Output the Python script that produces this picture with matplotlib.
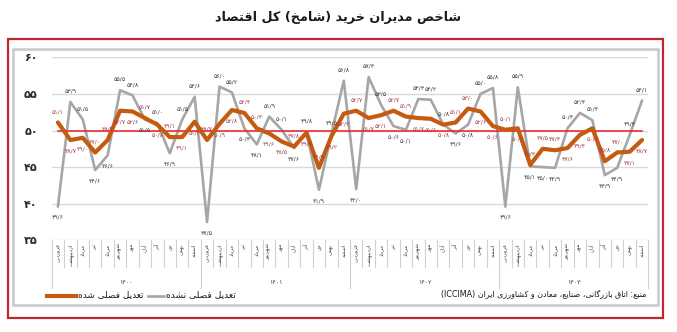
import matplotlib
matplotlib.use("Agg")
import matplotlib.pyplot as plt
from matplotlib.patches import Rectangle
from matplotlib.lines import Line2D
import matplotlib.transforms as mtransforms

# ---------------- data ----------------
title_text = "شاخص مدیران خرید (شامخ) کل اقتصاد"
months = ["فروردین", "اردیبهشت", "خرداد", "تیر", "مرداد", "شهریور",
          "مهر", "آبان", "آذر", "دی", "بهمن", "اسفند"]
years = ["۱۴۰۰", "۱۴۰۱", "۱۴۰۲", "۱۴۰۳"]
adjusted = [51.1, 48.7, 49.0, 47.0, 48.7, 52.7, 52.6, 51.7, 50.8, 49.1, 49.1, 51.2,
            48.7, 50.9, 52.8, 52.4, 50.3, 49.6, 48.5, 47.8, 49.7, 44.9, 49.2, 52.3,
            52.7, 51.7, 52.1, 52.7, 51.9, 51.7, 51.6, 50.8, 51.1, 53.0, 52.6, 50.6,
            50.1, 50.3, 45.3, 47.5, 47.3, 47.6, 49.4, 50.3, 45.8, 47.0, 47.1, 48.7]
not_adjusted = [39.6, 53.9, 51.5, 44.6, 46.6, 55.5, 54.8, 51.5, 51.0, 46.9, 51.5, 54.6,
                37.5, 56.0, 55.2, 50.3, 48.1, 51.9, 50.1, 47.6, 49.8, 41.9, 49.5, 56.8,
                42.0, 57.3, 53.5, 50.6, 50.1, 54.3, 54.2, 50.8, 49.6, 50.8, 55.0, 55.8,
                39.6, 55.9, 45.1, 45.0, 44.9, 50.3, 52.4, 51.4, 43.9, 44.9, 49.4, 54.1]
threshold = 50
y_ticks = [35, 40, 45, 50, 55, 60]
label_adjusted = "تعدیل فصلی شده"
label_not_adjusted = "تعدیل فصلی نشده"
source_text = "منبع: اتاق بازرگانی، صنایع، معادن و کشاورزی ایران (ICCIMA)"

# ---------------- Persian shaping helpers ----------------
FORMS = {
    'ا': ('\uFE8D', '\uFE8E', None, None), 'آ': ('\uFE81', '\uFE82', None, None),
    'ب': ('\uFE8F', '\uFE90', '\uFE91', '\uFE92'), 'پ': ('\uFB56', '\uFB57', '\uFB58', '\uFB59'),
    'ت': ('\uFE95', '\uFE96', '\uFE97', '\uFE98'), 'ث': ('\uFE99', '\uFE9A', '\uFE9B', '\uFE9C'),
    'ج': ('\uFE9D', '\uFE9E', '\uFE9F', '\uFEA0'), 'چ': ('\uFB7A', '\uFB7B', '\uFB7C', '\uFB7D'),
    'ح': ('\uFEA1', '\uFEA2', '\uFEA3', '\uFEA4'), 'خ': ('\uFEA5', '\uFEA6', '\uFEA7', '\uFEA8'),
    'د': ('\uFEA9', '\uFEAA', None, None), 'ذ': ('\uFEAB', '\uFEAC', None, None),
    'ر': ('\uFEAD', '\uFEAE', None, None), 'ز': ('\uFEAF', '\uFEB0', None, None),
    'ژ': ('\uFB8A', '\uFB8B', None, None),
    'س': ('\uFEB1', '\uFEB2', '\uFEB3', '\uFEB4'), 'ش': ('\uFEB5', '\uFEB6', '\uFEB7', '\uFEB8'),
    'ص': ('\uFEB9', '\uFEBA', '\uFEBB', '\uFEBC'), 'ض': ('\uFEBD', '\uFEBE', '\uFEBF', '\uFEC0'),
    'ط': ('\uFEC1', '\uFEC2', '\uFEC3', '\uFEC4'), 'ظ': ('\uFEC5', '\uFEC6', '\uFEC7', '\uFEC8'),
    'ع': ('\uFEC9', '\uFECA', '\uFECB', '\uFECC'), 'غ': ('\uFECD', '\uFECE', '\uFECF', '\uFED0'),
    'ف': ('\uFED1', '\uFED2', '\uFED3', '\uFED4'), 'ق': ('\uFED5', '\uFED6', '\uFED7', '\uFED8'),
    'ک': ('\uFB8E', '\uFB8F', '\uFB90', '\uFB91'), 'گ': ('\uFB92', '\uFB93', '\uFB94', '\uFB95'),
    'ل': ('\uFEDD', '\uFEDE', '\uFEDF', '\uFEE0'), 'م': ('\uFEE1', '\uFEE2', '\uFEE3', '\uFEE4'),
    'ن': ('\uFEE5', '\uFEE6', '\uFEE7', '\uFEE8'), 'و': ('\uFEED', '\uFEEE', None, None),
    'ه': ('\uFEE9', '\uFEEA', '\uFEEB', '\uFEEC'), 'ی': ('\uFBFC', '\uFBFD', '\uFBFE', '\uFBFF'),
    'ئ': ('\uFE89', '\uFE8A', '\uFE8B', '\uFE8C'),
}
LAM_ALEF = {'ا': ('\uFEFB', '\uFEFC'), 'آ': ('\uFEF5', '\uFEF6')}


def _dual(c):
    return c in FORMS and FORMS[c][2] is not None


def shape(text):
    out = []
    chars = list(text)
    i = 0
    n = len(chars)
    while i < n:
        c = chars[i]
        if c not in FORMS:
            out.append(c)
            i += 1
            continue
        prev = chars[i - 1] if i > 0 else ''
        jp = _dual(prev)
        if c == 'ل' and i + 1 < n and chars[i + 1] in LAM_ALEF:
            iso, fin = LAM_ALEF[chars[i + 1]]
            out.append(fin if jp else iso)
            i += 2
            continue
        nxt = chars[i + 1] if i + 1 < n else ''
        jn = _dual(c) and nxt in FORMS
        iso, fin, ini, med = FORMS[c]
        if jp and jn:
            out.append(med)
        elif jp:
            out.append(fin)
        elif jn:
            out.append(ini)
        else:
            out.append(iso)
        i += 1
    s = ''.join(out)[::-1]
    res = []
    run = []

    def is_ltr(ch):
        return (ch.isascii() and ch.isalnum()) or ('\u06F0' <= ch <= '\u06F9')
    for ch in s:
        if is_ltr(ch):
            run.append(ch)
        else:
            if run:
                res.extend(run[::-1])
                run = []
            res.append(ch)
    if run:
        res.extend(run[::-1])
    mirror = {'(': ')', ')': '('}
    return ''.join(mirror.get(ch, ch) for ch in res)


FA_DIGITS = str.maketrans('0123456789.', '۰۱۲۳۴۵۶۷۸۹/')


def fa_num(v):
    return f"{v:.1f}".translate(FA_DIGITS)


def fa_int(v):
    return str(v).translate(FA_DIGITS)


# ---------------- figure ----------------
plt.rcParams['font.family'] = ['DejaVu Sans']
W, H = 677, 332
fig = plt.figure(figsize=(W / 100, H / 100), dpi=100)
fig.patch.set_facecolor('white')


def fx(x):
    return x / W


def fy(y):
    return 1 - y / H


# frames
fig.patches.append(Rectangle((fx(8), fy(318)), fx(663) - fx(8), fy(39) - fy(318),
                             transform=fig.transFigure, fill=False,
                             edgecolor='#C4262E', linewidth=1.6, zorder=0))
fig.patches.append(Rectangle((fx(12.5), fy(305)), fx(657.5) - fx(12.5), fy(49) - fy(305),
                             transform=fig.transFigure, fill=False,
                             edgecolor='#C8C8C8', linewidth=1.8, zorder=0))

fig.text(fx(338), fy(18), shape(title_text), ha='center', va='center',
         fontsize=9.2, fontweight='bold', color='#1a1a1a')

ax_left, ax_right = 51.7, 648.3
ax_top, ax_bot = 57.3, 240.3
ax = fig.add_axes([fx(ax_left), fy(ax_bot), (ax_right - ax_left) / W, (ax_bot - ax_top) / H])
ax.set_facecolor('none')

n = len(adjusted)
x = list(range(n))
ax.set_xlim(-0.5, n - 0.5)
ax.set_ylim(y_ticks[0], y_ticks[-1])

for yt in y_ticks:
    ax.axhline(yt, color='#D9D9D9', linewidth=1.0, zorder=1)

ax.plot(x, not_adjusted, color='#A6A6A6', linewidth=1.9, zorder=3,
        solid_joinstyle='round', solid_capstyle='round')
ax.plot(x, [threshold] * n, color='#EE1C25', linewidth=1.1, zorder=4)
ax.plot(x, adjusted, color='#C55A11', linewidth=3.0, zorder=5,
        solid_joinstyle='round', solid_capstyle='round')

# data labels
for i in range(n):
    a, g = adjusted[i], not_adjusted[i]
    if g >= a:
        ga, gv, aa, av = 6, 'bottom', -6, 'top'
    else:
        ga, gv, aa, av = -6, 'top', 6, 'bottom'
    ax.annotate(fa_num(g), (i, g), xytext=(0, ga), textcoords='offset points',
                ha='center', va=gv, fontsize=4.4, color='#3C3C3C', zorder=6,
                annotation_clip=False)
    ax.annotate(fa_num(a), (i, a), xytext=(0, aa), textcoords='offset points',
                ha='center', va=av, fontsize=4.4, color='#A0404A', zorder=6,
                annotation_clip=False)

ax.set_yticks(y_ticks)
ax.set_yticklabels([fa_int(v) for v in y_ticks], fontsize=8, fontweight='bold', color='#2a2a2a')
ax.tick_params(axis='y', length=0, pad=10)
ax.set_xticks([])
for sp in ax.spines.values():
    sp.set_visible(False)

# category axis
trans = mtransforms.blended_transform_factory(ax.transData, ax.transAxes)
hpx = ax_bot - ax_top
y_cell = -(266.5 - ax_bot) / hpx
y_year_sep = -(288 - ax_bot) / hpx
y_year = -(282 - ax_bot) / hpx
for k in range(n + 1):
    xb = k - 0.5
    y_end = y_year_sep if k % 12 == 0 else y_cell
    ax.add_line(Line2D([xb, xb], [0, y_end], transform=trans, color='#D0D0D0',
                       linewidth=0.8, clip_on=False))
for i in range(n):
    ax.text(i, -0.018, shape(months[i % 12]), transform=trans, rotation=90,
            ha='center', va='top', fontsize=3.9, color='#404040', clip_on=False)
for yi, yl in enumerate(years):
    ax.text(yi * 12 + 5.5, y_year, yl, transform=trans, ha='center', va='center',
            fontsize=4.5, color='#404040', clip_on=False)

# legend
fig.add_artist(Line2D([fx(47), fx(76)], [fy(295.5), fy(295.5)], transform=fig.transFigure,
                      color='#C55A11', linewidth=3.0))
fig.text(fx(78), fy(295), shape(label_adjusted), ha='left', va='center',
         fontsize=6.4, color='#1a1a1a')
fig.add_artist(Line2D([fx(148), fx(164)], [fy(295.5), fy(295.5)], transform=fig.transFigure,
                      color='#A6A6A6', linewidth=1.9))
fig.text(fx(166), fy(295), shape(label_not_adjusted), ha='left', va='center',
         fontsize=6.6, color='#1a1a1a')
fig.text(fx(646), fy(295), shape(source_text), ha='right', va='center',
         fontsize=5.8, color='#1a1a1a')

fig.savefig('out.png', dpi=100, facecolor='white')
